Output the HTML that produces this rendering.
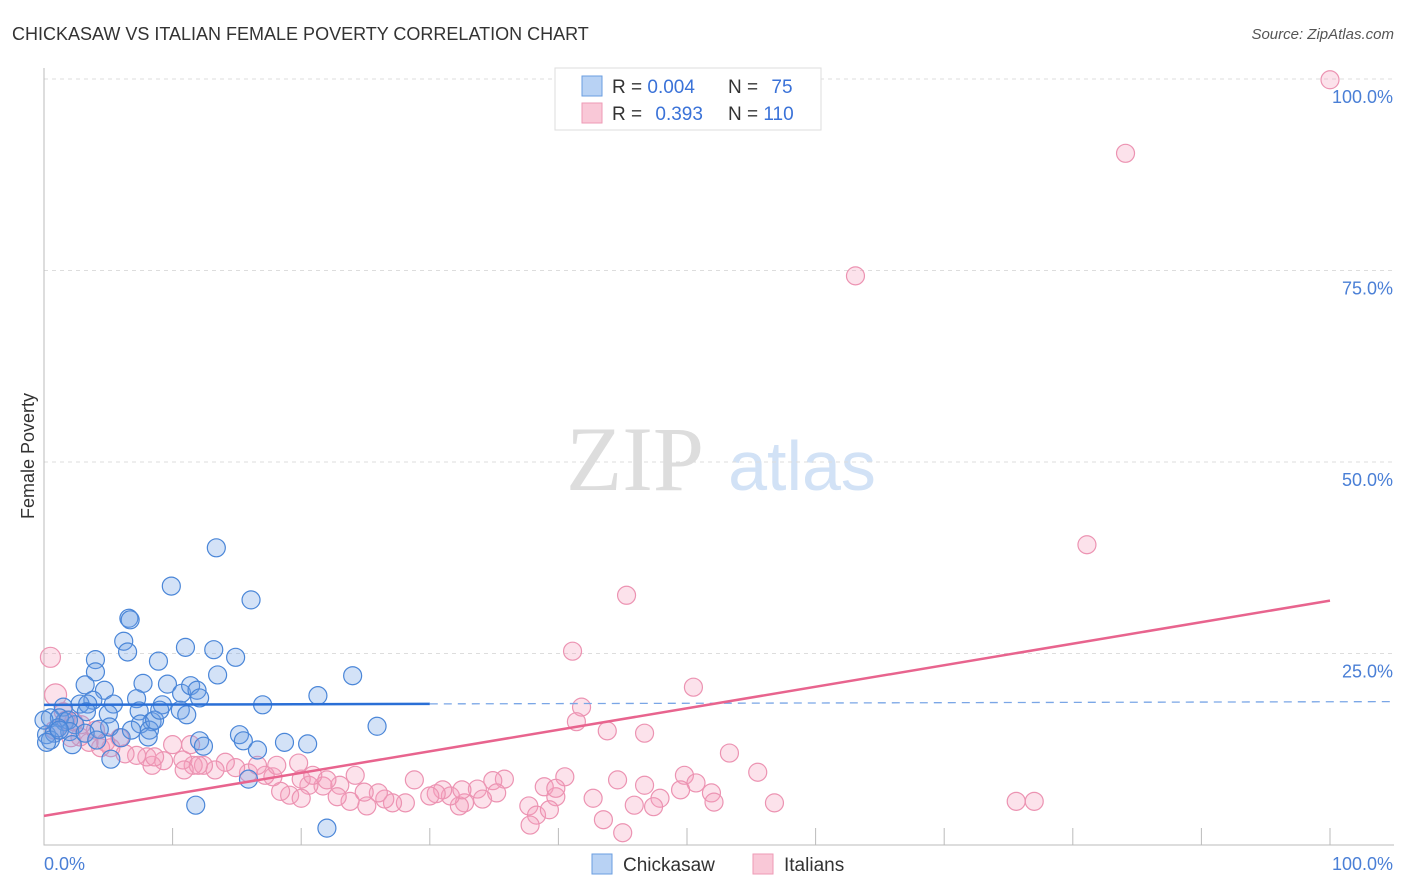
<!DOCTYPE html>
<html><head><meta charset="utf-8"><style>
body{margin:0;background:#fff;font-family:"Liberation Sans",sans-serif}
svg{display:block}
</style></head><body>
<svg id="chart" width="1406" height="892" xmlns="http://www.w3.org/2000/svg">
<text x="12" y="40" font-size="18" fill="#333">CHICKASAW VS ITALIAN FEMALE POVERTY CORRELATION CHART</text>
<text x="1394" y="39" font-size="15" fill="#555" font-style="italic" text-anchor="end">Source: ZipAtlas.com</text>
<text x="34" y="456" font-size="18" fill="#333" text-anchor="middle" transform="rotate(-90 34 456)">Female Poverty</text>
<g>
<text x="635" y="490" font-size="92" fill="#ddd" font-family="Liberation Serif,serif" text-anchor="middle">ZIP</text>
<text x="802" y="490" font-size="70" fill="#d2e2f6" text-anchor="middle">atlas</text>
</g>
<g id="grid"></g>
<g id="axes"></g>
<g id="marks"></g>
<g>
<rect x="555" y="68" width="266" height="62" fill="#fff" stroke="#ddd"/>
<rect x="582" y="76" width="20" height="20" fill="#b8d2f4" stroke="#6a9ee0"/>
<rect x="582" y="103" width="20" height="20" fill="#f9c8d7" stroke="#ee9ab5"/>
<text x="612" y="93" font-size="19" fill="#333">R = <tspan fill="#3a72d8">0.004</tspan></text>
<text x="728" y="93" font-size="19" fill="#333">N = <tspan fill="#3a72d8" dx="8">75</tspan></text>
<text x="612" y="120" font-size="19" fill="#333">R = <tspan fill="#3a72d8" dx="8">0.393</tspan></text>
<text x="728" y="120" font-size="19" fill="#333">N = <tspan fill="#3a72d8">110</tspan></text>
</g>
<g>
<rect x="592" y="854" width="20" height="20" fill="#b8d2f4" stroke="#6a9ee0"/>
<text x="623" y="871" font-size="19" fill="#333">Chickasaw</text>
<rect x="753" y="854" width="20" height="20" fill="#f9c8d7" stroke="#ee9ab5"/>
<text x="784" y="871" font-size="19" fill="#333">Italians</text>
</g>
</svg>
<script>
const yTicks=[25,50,75,100];
const yTickLabels=["25.0%","50.0%","75.0%","100.0%"];
const xTicks=[10,20,30,40,50,60,70,80,90,100];
const xEndLabels=["0.0%","100.0%"];
const blueX=[13.4,9.9,16.1,6.6,6.7,6.2,6.5,4.0,8.9,11.0,13.2,14.9,4.0,13.5,7.7,9.6,3.2,4.7,10.7,11.4,11.9,12.1,3.8,1.5,2.8,3.4,5.4,7.2,9.2,10.6,17.0,21.3,24.0,5.0,7.4,11.1,8.4,7.5,5.1,1.6,2.4,0.5,1.2,1.9,0.2,0.8,2.0,2.2,4.3,8.2,8.1,12.1,12.4,15.2,15.5,16.6,18.7,20.5,25.9,5.2,15.9,11.8,22.0,0.5,1.1,0,0.2,3.2,6.0,6.8,4.1,8.6,9.0,1.2,3.3];
const blueY=[38.8,33.8,32.0,29.6,29.4,26.6,25.2,24.2,24.0,25.8,25.5,24.5,22.6,22.2,21.1,21.0,20.9,20.2,19.8,20.8,20.2,19.2,18.9,18.0,18.4,18.4,18.4,19.1,18.3,17.6,18.3,19.5,22.1,17.1,17.5,17.0,16.1,15.8,15.4,16.1,15.7,16.6,16.6,16.3,14.4,14.6,14.8,13.1,15.1,15.0,14.1,13.6,12.9,14.4,13.6,12.4,13.4,13.2,15.5,11.2,8.6,5.2,2.2,13.7,15.3,16.3,13.4,14.6,14.0,15.0,13.7,16.3,17.6,15.0,17.4];
const pinkX=[100,84.1,63.1,81.1,45.3,41.1,50.5,41.8,41.4,43.8,46.7,53.3,55.5,49.8,50.7,44.6,46.7,49.5,51.9,52.1,47.9,45.9,47.4,42.7,43.5,45.0,56.8,75.6,77.0,40.5,38.9,39.8,37.7,38.3,37.8,39.3,35.8,34.9,35.2,33.7,34.1,32.7,32.3,31.6,31.0,30.5,28.8,28.1,27.1,26.5,26.0,25.1,23.8,23.0,22.8,21.7,20.6,22.0,20.0,19.1,18.4,20.0,17.8,17.2,15.9,16.6,14.9,14.1,13.3,12.4,11.6,10.8,11.4,10.0,9.3,8.4,8.0,7.2,6.3,5.2,4.4,5.9,4.8,3.5,2.8,4.0,2.9,2.3,1.5,0.9,0.5,0.8,1.7,18.1,19.8,20.9,24.2,24.9,12.0,8.6,10.9,2.1,30.0,32.5,39.8,33.4,43.2];
const pinkY=[99.9,90.3,74.3,39.2,32.6,25.3,20.6,18.0,16.1,14.9,14.6,12.0,9.5,9.1,8.1,8.5,7.8,7.2,6.8,5.6,6.1,5.2,5.0,6.1,3.3,1.6,5.5,5.7,5.7,8.9,7.6,6.3,5.1,3.9,2.6,4.6,8.6,8.4,6.8,7.3,6.0,5.5,5.1,6.4,7.2,6.7,8.5,5.5,5.5,6.0,6.8,5.1,5.7,7.8,6.3,7.7,7.8,8.5,8.6,6.5,7.0,6.1,8.9,9.1,9.4,10.4,10.1,10.8,9.8,10.4,10.4,11.1,13.1,13.1,11.0,10.4,11.5,11.7,11.9,12.7,12.7,14.0,13.4,13.4,14.1,15.0,15.7,16.1,17.4,19.6,24.5,15.0,16.3,10.4,10.7,9.1,9.1,6.9,10.4,11.5,9.8,14.0,6.4,7.2,7.4,5.5,5.5];
const pinkSize=[9,9,9,9,9,9,9,9,9,9,9,9,9,9,9,9,9,9,9,9,9,9,9,9,9,9,9,9,9,9,9,9,9,9,9,9,9,9,9,9,9,9,9,9,9,9,9,9,9,9,9,9,9,9,9,9,9,9,9,9,9,9,9,9,9,9,9,9,9,9,9,9,9,9,9,9,9,9,9,9,9,9,9,9,9,9,9,9,9,11,10,9,9,9,9,9,9,9,9,9,9,9,9,9,9];
const blueTrend=[18.3,18.7];   // y at x=0, x=100
const blueSolidEnd=[30];
const pinkTrend=[3.8,31.9];

const NS="http://www.w3.org/2000/svg";
const X0=44,X1=1330,Y0=845,Y100=79;
const sx=v=>X0+(X1-X0)*v/100;
const sy=v=>Y0-(Y0-Y100)*v/100;
function mk(tag,attrs,parent){const e=document.createElementNS(NS,tag);for(const k in attrs)e.setAttribute(k,attrs[k]);parent.appendChild(e);return e;}
const grid=document.getElementById('grid'),axes=document.getElementById('axes'),marks=document.getElementById('marks'),svg=document.getElementById('chart');
yTicks.forEach((t,i)=>{
  const l=mk('line',{x1:X0,x2:1394,y1:sy(t),y2:sy(t),stroke:'#ddd','stroke-dasharray':'4,4'},grid);
  
  
  const tx=mk('text',{x:1393,y:sy(t)+24,'font-size':18,fill:'#4a7fd6','text-anchor':'end'},axes);
  tx.textContent=yTickLabels[i];
  
  
});
const ax=mk('path',{d:`M${X0},68V${Y0}H1394`,stroke:'#bbb',fill:'none'},axes);


xTicks.forEach(t=>{
  const l=mk('line',{x1:sx(t),x2:sx(t),y1:Y0-17,y2:Y0,stroke:'#bbb'},axes);
  
  
});
[[0,'start',X0],[1,'end',1393]].forEach(([i,a,x])=>{
  const tx=mk('text',{x:x,y:870,'font-size':18,fill:'#4a7fd6','text-anchor':a},axes);
  tx.textContent=xEndLabels[i];
  
  
});
pinkX.forEach((v,i)=>{
  const c=mk('circle',{cx:sx(v),cy:sy(pinkY[i]),r:pinkSize[i],fill:'rgba(244,160,190,0.3)',stroke:'#ec93b2','stroke-width':1.2},marks);
  
  
});
blueX.forEach((v,i)=>{
  const c=mk('circle',{cx:sx(v),cy:sy(blueY[i]),r:9,fill:'rgba(110,160,230,0.3)',stroke:'#4a86d8','stroke-width':1.2},marks);
  
  
});
const by=x=>blueTrend[0]+(blueTrend[1]-blueTrend[0])*x/100;
const b1=mk('line',{x1:sx(0),y1:sy(by(0)),x2:sx(blueSolidEnd[0]),y2:sy(by(blueSolidEnd[0])),stroke:'#2a6fd6','stroke-width':2.5},marks);


const b2=mk('line',{x1:sx(blueSolidEnd[0]),y1:sy(by(blueSolidEnd[0])),x2:1390,y2:sy(by(104.7)),stroke:'#7aa6e6','stroke-width':1.3,'stroke-dasharray':'8,6'},marks);


const p=mk('line',{x1:sx(0),y1:sy(pinkTrend[0]),x2:sx(100),y2:sy(pinkTrend[1]),stroke:'#e8648e','stroke-width':2.5},marks);


</script>
</body></html>
